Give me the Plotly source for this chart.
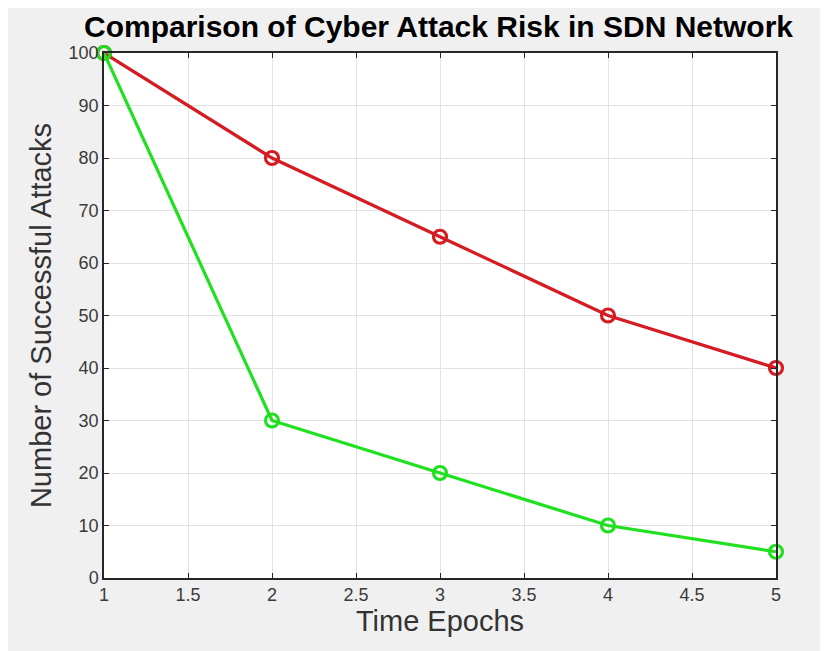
import plotly.graph_objects as go

epochs = [1, 2, 3, 4, 5]
traditional = [100, 80, 65, 50, 40]
sdn = [100, 30, 20, 10, 5]

title_text = "Comparison of Cyber Attack Risk in SDN Network"
x_title = "Time Epochs"
y_title = "Number of Successful Attacks"

FONT = "Liberation Sans, Arial, Helvetica"
RED = "#d41c22"
GREEN = "#20e020"

fig = go.Figure()
fig.add_trace(go.Scatter(x=epochs, y=traditional, mode="lines+markers",
                         line=dict(color=RED, width=3.2),
                         marker=dict(symbol="circle-open", size=13, color=RED, line=dict(width=3.2)),
                         showlegend=False, cliponaxis=False))
fig.add_trace(go.Scatter(x=epochs, y=sdn, mode="lines+markers",
                         line=dict(color=GREEN, width=3.2),
                         marker=dict(symbol="circle-open", size=13, color=GREEN, line=dict(width=3.2)),
                         showlegend=False, cliponaxis=False))

axis_common = dict(showgrid=True, gridcolor="#e2e2e2", gridwidth=1,
                   showline=True, linecolor="#262626", linewidth=1.5, mirror="ticks",
                   ticks="inside", ticklen=5, tickcolor="#262626", zeroline=False,
                   tickfont=dict(family=FONT, size=18, color="#3a3a3a"))

fig.update_layout(
    width=820, height=643,
    paper_bgcolor="#f0f0f0", plot_bgcolor="white",
    margin=dict(l=96, r=52, t=45, b=73),
    title=dict(text="<b>" + title_text + "</b>", x=0.525, xanchor="center", y=0.972, yanchor="middle",
               font=dict(family=FONT, size=30, color="black")),
    xaxis=dict(range=[1, 5], tickvals=[1, 1.5, 2, 2.5, 3, 3.5, 4, 4.5, 5],
               title=dict(text=x_title, standoff=4,
                          font=dict(family=FONT, size=29, color="#333333")),
               **axis_common),
    yaxis=dict(range=[0, 100], dtick=10,
               title=dict(text=y_title, standoff=8,
                          font=dict(family=FONT, size=29, color="#333333")),
               **axis_common),
)

fig.write_html("out.html")
